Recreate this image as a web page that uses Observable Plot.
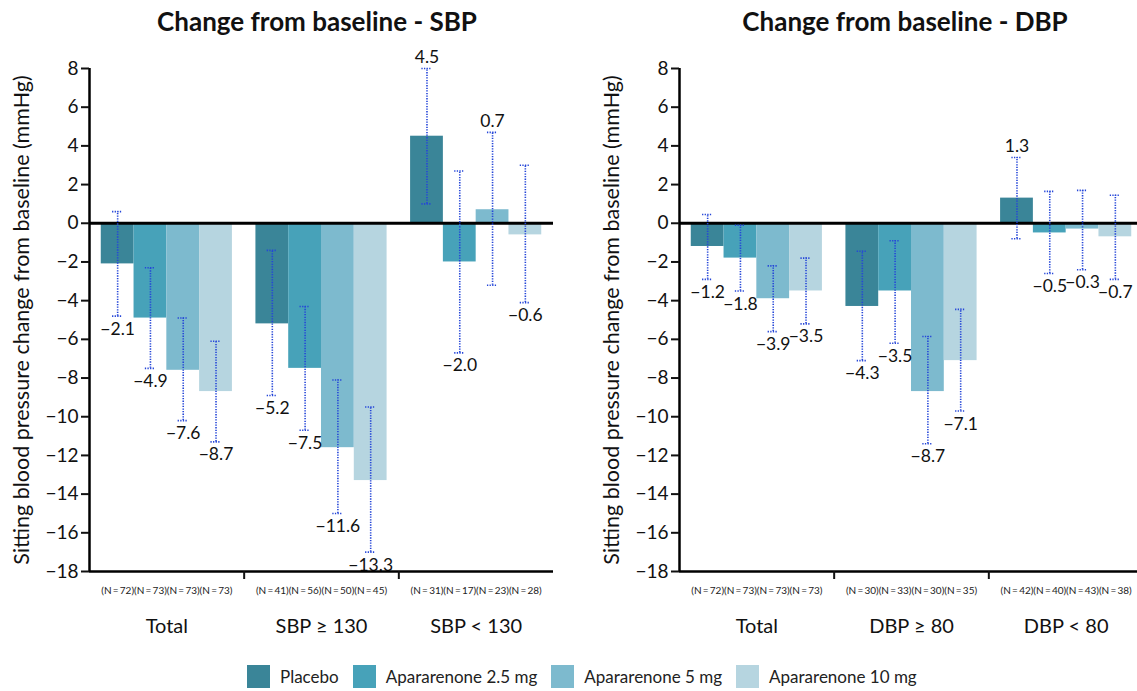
<!DOCTYPE html>
<html><head><meta charset="utf-8">
<script src="https://cdn.jsdelivr.net/npm/d3@7"></script>
<script src="https://cdn.jsdelivr.net/npm/@observablehq/plot@0.6"></script>
<style>
body{margin:0;background:#fff;font-family:Lato,"Open Sans",sans-serif;}
#wrap{position:relative;width:1137px;height:691px;overflow:hidden;background:#fff}
.panel{position:absolute;top:0}
.title{position:absolute;top:5px;font-weight:bold;font-size:26px;color:#111;transform:translateX(-50%);white-space:nowrap}
#legend{position:absolute;top:665px;left:247px;display:flex;align-items:center;font-size:17px;color:#222}
.item{display:flex;align-items:center;margin-right:14px}
.sw{width:23px;height:23px;margin-right:10px}
</style></head><body><div id="wrap"></div>
<script>
const treatments = ["Placebo", "Apararenone 2.5 mg", "Apararenone 5 mg", "Apararenone 10 mg"];
const colors = ["#3a8598", "#47a2b9", "#7dbace", "#b6d5e0"];
const sbpGroups = ["Total", "SBP \u2265 130", "SBP < 130"];
const dbpGroups = ["Total", "DBP \u2265 80", "DBP < 80"];
const sbpMean = [-2.1, -4.9, -7.6, -8.7, -5.2, -7.5, -11.6, -13.3, 4.5, -2.0, 0.7, -0.6];
const sbpLow  = [-4.8, -7.5, -10.2, -11.3, -8.9, -10.7, -15.0, -17.0, 1.0, -6.7, -3.2, -4.1];
const sbpHigh = [0.6, -2.3, -4.9, -6.1, -1.4, -4.3, -8.1, -9.5, 8.0, 2.7, 4.7, 3.0];
const sbpN    = [72, 73, 73, 73, 41, 56, 50, 45, 31, 17, 23, 28];
const dbpMean = [-1.2, -1.8, -3.9, -3.5, -4.3, -3.5, -8.7, -7.1, 1.3, -0.5, -0.3, -0.7];
const dbpLow  = [-2.9, -3.5, -5.6, -5.2, -7.1, -6.2, -11.4, -9.7, -0.8, -2.6, -2.4, -2.9];
const dbpHigh = [0.45, -0.1, -2.2, -1.8, -1.45, -0.9, -5.85, -4.45, 3.4, 1.65, 1.7, 1.45];
const dbpN    = [72, 73, 73, 73, 30, 33, 30, 35, 42, 40, 43, 38];
const yTicks = d3.range(-18, 9, 2);
const yLabel = "Sitting blood pressure change from baseline (mmHg)";

const barW = 0.212, pad = (1 - 4 * barW) / 2, cap = 0.033;
const blue = "#2546d8";
const fmt = d3.format(".1f");

function rowsOf(mean, low, high, n) {
  return mean.map((m, k) => {
    const g = Math.floor(k / 4), t = k % 4;
    const x1 = g + pad + t * barW;
    return {treatment: treatments[t], mean: m, low: low[k], high: high[k], n: n[k], x1, x2: x1 + barW, xc: x1 + barW / 2};
  });
}

function panel(groups, mean, low, high, n) {
  const rows = rowsOf(mean, low, high, n);
  return Plot.plot({
    width: 560, height: 650,
    marginLeft: 89, marginRight: 7, marginTop: 68, marginBottom: 79,
    x: {domain: [0, 3], axis: null},
    y: {domain: [-18, 8], axis: null},
    color: {domain: treatments, range: colors},
    style: {fontFamily: "Lato, 'Open Sans', sans-serif", color: "#111", background: "white", overflow: "visible"},
    marks: [
      Plot.rectY(rows, {x1: "x1", x2: "x2", y1: 0, y2: "mean", fill: "treatment"}),
      Plot.ruleY([0], {stroke: "#000", strokeWidth: 3}),
      Plot.ruleX(rows, {x: "xc", y1: "low", y2: "high", stroke: blue, strokeWidth: 1.6, strokeDasharray: "1.3,1.3"}),
      Plot.ruleY(rows, {y: "low", x1: d => d.xc - cap, x2: d => d.xc + cap, stroke: blue, strokeWidth: 1.6, strokeDasharray: "1.3,1.3"}),
      Plot.ruleY(rows, {y: "high", x1: d => d.xc - cap, x2: d => d.xc + cap, stroke: blue, strokeWidth: 1.6, strokeDasharray: "1.3,1.3"}),
      Plot.text(rows.filter(d => d.mean < 0), {x: "xc", y: "low", dy: 13, text: d => fmt(d.mean), fontSize: 17.5, fill: "#111"}),
      Plot.text(rows.filter(d => d.mean >= 0), {x: "xc", y: "high", dy: -11, text: d => fmt(d.mean), fontSize: 17.5, fill: "#111"}),
      Plot.ruleX([0], {y1: -18, y2: 8, stroke: "#000", strokeWidth: 2.5}),
      Plot.ruleY([-18], {stroke: "#000", strokeWidth: 2.5}),
      Plot.axisY({ticks: yTicks, tickSize: 8, tickPadding: 3, strokeWidth: 2, fontSize: 19, label: null, fill: "#111"}),
      Plot.axisX({ticks: [1, 2], tickSize: 8, strokeWidth: 2, tickFormat: () => "", label: null}),
      Plot.text(rows, {x: "xc", y: -18, dy: 19, text: d => `(N\u2009=\u2009${d.n})`, fontSize: 10, fill: "#222"}),
      Plot.text(groups, {x: (d, i) => i + 0.5, y: -18, dy: 55, text: d => d, fontSize: 20, fill: "#111"}),
      Plot.text([yLabel], {frameAnchor: "left", textAnchor: "middle", rotate: -90, dx: -67, fontSize: 21.5, fill: "#111"})
    ]
  });
}

const wrap = document.getElementById("wrap");
const p1 = panel(sbpGroups, sbpMean, sbpLow, sbpHigh, sbpN);
p1.classList.add("panel"); p1.style.left = "0px";
const p2 = panel(dbpGroups, dbpMean, dbpLow, dbpHigh, dbpN);
p2.classList.add("panel"); p2.style.left = "590px";
wrap.appendChild(p1); wrap.appendChild(p2);

const titles = [["Change from baseline - SBP", 317], ["Change from baseline - DBP", 905]];
for (const [t, cx] of titles) {
  const d = document.createElement("div");
  d.className = "title"; d.textContent = t; d.style.left = cx + "px";
  wrap.appendChild(d);
}
const leg = document.createElement("div"); leg.id = "legend";
treatments.forEach((t, i) => {
  const it = document.createElement("div"); it.className = "item";
  const sw = document.createElement("div"); sw.className = "sw"; sw.style.background = colors[i];
  const lb = document.createElement("span"); lb.textContent = t;
  it.appendChild(sw); it.appendChild(lb); leg.appendChild(it);
});
wrap.appendChild(leg);
</script></body></html>
